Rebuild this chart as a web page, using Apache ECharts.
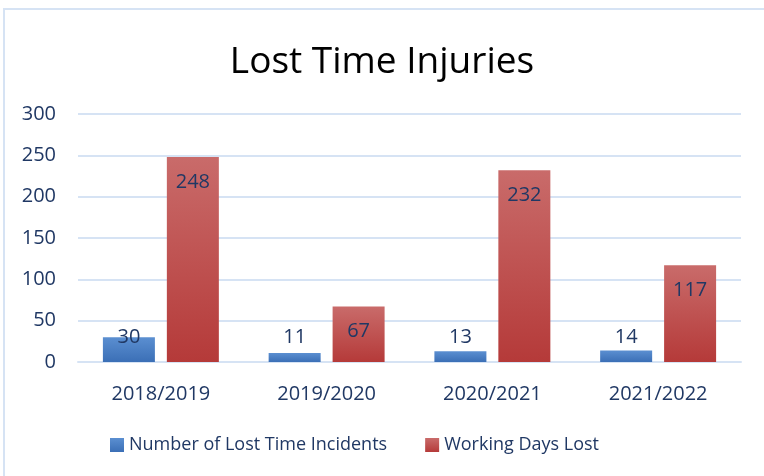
<!DOCTYPE html>
<html>
<head>
<meta charset="utf-8">
<script src="https://cdn.jsdelivr.net/npm/echarts@6/dist/echarts.min.js"></script>
<style>
  html, body { margin: 0; padding: 0; background: #fff; }
  #frame {
    position: absolute; left: 3px; top: 8px; width: 790px; height: 500px;
    border: 2px solid #d6e3f4; box-sizing: border-box;
  }
  #chart { position: absolute; left: 0; top: 0; width: 764px; height: 476px; }
</style>
</head>
<body>
<div id="frame"></div>
<div id="chart"></div>
<script>
// chart data
const years = ['2018/2019', '2019/2020', '2020/2021', '2021/2022']
const incidents = [30, 11, 13, 14]
const daysLost = [248, 67, 232, 117]
const yTicks = [0, 50, 100, 150, 200, 250, 300]

const fontFamily = '"Open Sans", "Noto Sans", sans-serif'
const textColor = '#203864'

const chart = echarts.init(document.getElementById('chart'))

chart.setOption({
  animation: false,
  title: {
    text: 'Lost Time Injuries',
    left: 'center',
    top: 39,
    textStyle: {
      color: '#000',
      fontFamily: fontFamily,
      fontWeight: 'normal',
      fontSize: 37
    }
  },
  legend: {
    bottom: 17,
    left: 105,
    itemGap: 38,
    itemWidth: 14,
    itemHeight: 14,
    icon: 'rect',
    textStyle: {
      color: textColor,
      fontFamily: fontFamily,
      fontSize: 18
    }
  },
  grid: {
    left: 78,
    right: 23,
    top: 114,
    bottom: 114
  },
  xAxis: {
    type: 'category',
    data: years,
    axisTick: { show: false },
    axisLine: { lineStyle: { color: '#d6e3f4', width: 2 } },
    axisLabel: {
      color: textColor,
      fontFamily: fontFamily,
      fontSize: 20,
      margin: 22
    }
  },
  yAxis: {
    type: 'value',
    min: yTicks[0],
    max: yTicks[yTicks.length - 1],
    interval: 50,
    axisLine: { show: false },
    axisTick: { show: false },
    splitLine: { lineStyle: { color: '#d6e3f4', width: 2 } },
    axisLabel: {
      color: textColor,
      fontFamily: fontFamily,
      fontSize: 20,
      margin: 22
    }
  },
  series: [
    {
      name: 'Number of Lost Time Incidents',
      type: 'bar',
      data: incidents,
      barWidth: 52,
      barGap: '23%',
      itemStyle: {
        color: new echarts.graphic.LinearGradient(0, 0, 0, 1, [
          { offset: 0, color: '#5b8fd1' },
          { offset: 1, color: '#3b6fb6' }
        ])
      },
      label: {
        show: true,
        position: 'insideBottom',
        distance: 15,
        color: textColor,
        fontFamily: fontFamily,
        fontSize: 20
      }
    },
    {
      name: 'Working Days Lost',
      type: 'bar',
      data: daysLost,
      barWidth: 52,
      itemStyle: {
        color: new echarts.graphic.LinearGradient(0, 0, 0, 1, [
          { offset: 0, color: '#c96b6a' },
          { offset: 1, color: '#b53a39' }
        ])
      },
      label: {
        show: true,
        position: 'insideTop',
        distance: 15,
        color: textColor,
        fontFamily: fontFamily,
        fontSize: 20
      }
    }
  ]
})
</script>
</body>
</html>
